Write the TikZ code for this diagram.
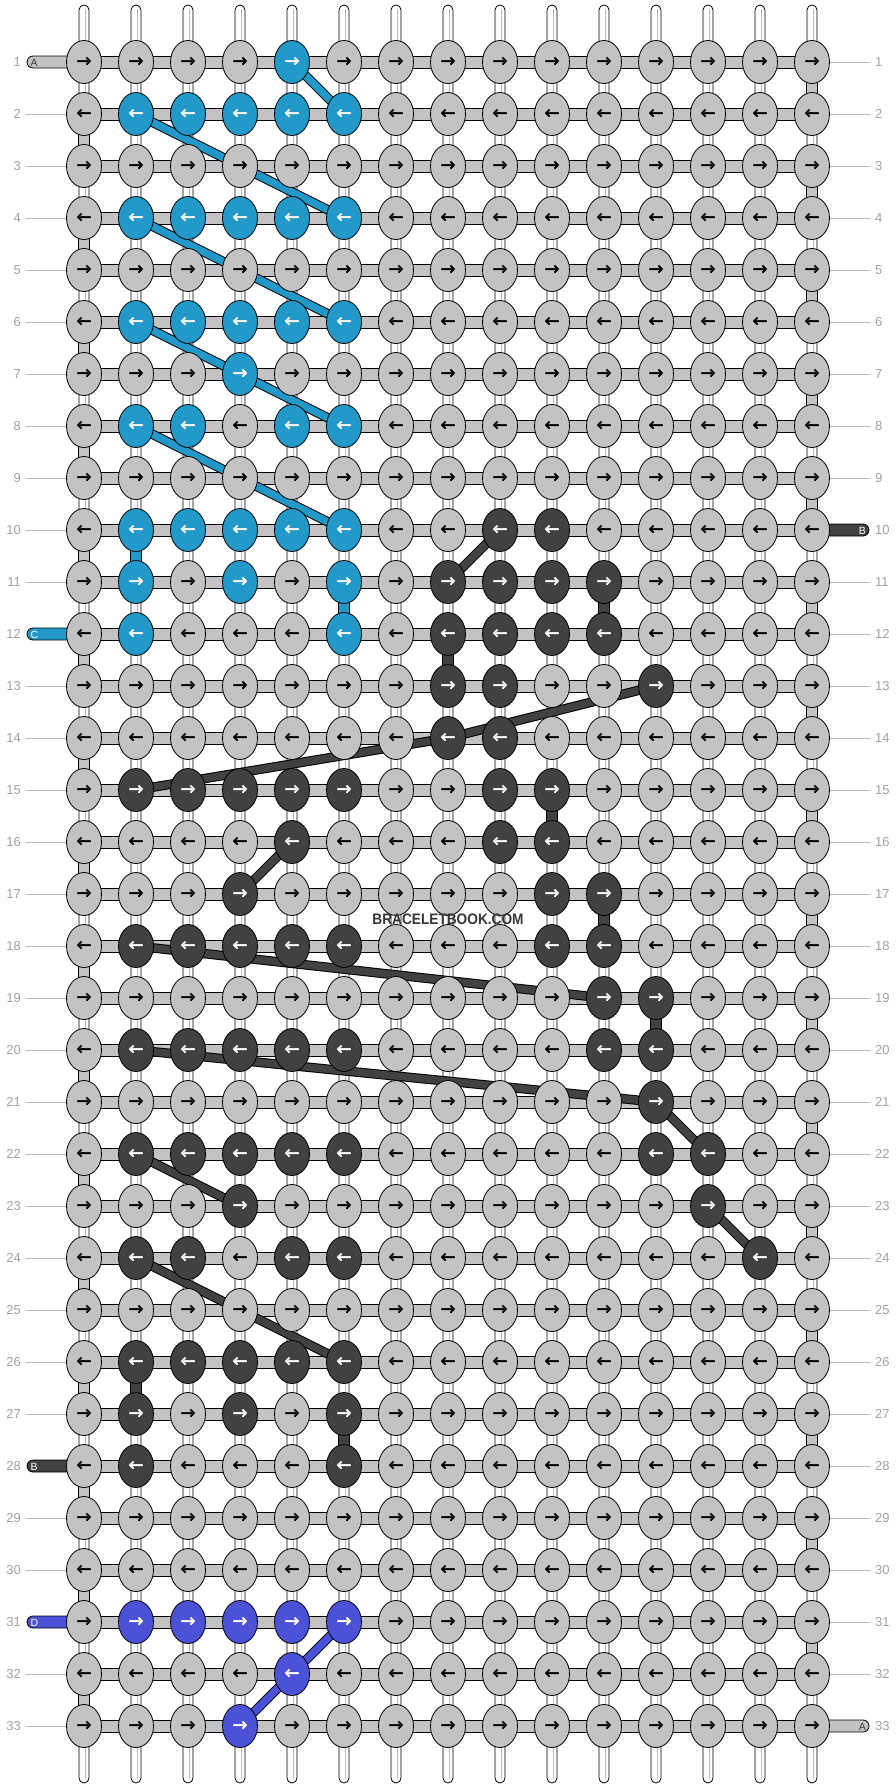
\documentclass[tikz,border=0pt]{standalone}
\usepackage{fontspec}
\usepackage{graphicx}
\setmainfont{Liberation Sans}
\newfontfamily\arrowfont[FakeBold=2.2]{DejaVu Sans}
\usetikzlibrary{shapes.geometric}
\pgfdeclarelayer{strands}
\pgfdeclarelayer{paths}
\pgfsetlayers{strands,paths,main}

\definecolor{kgray}{HTML}{C3C3C3}
\definecolor{kblue}{HTML}{2299C9}
\definecolor{kdark}{HTML}{414042}
\definecolor{kviolet}{HTML}{4B52D7}
\definecolor{numgray}{HTML}{A0A0A0}
\definecolor{numline}{HTML}{BBBBBB}
\definecolor{wmark}{HTML}{363636}

\newcommand\kset[3]{\foreach \kk in {#3} {\expandafter\xdef\csname kcol-#1-\kk\endcsname{#2}}}
% blue
\kset{1}{kblue}{5}
\kset{2}{kblue}{2,3,4,5,6}
\kset{4}{kblue}{2,3,4,5,6}
\kset{6}{kblue}{2,3,4,5,6}
\kset{7}{kblue}{4}
\kset{8}{kblue}{2,3,5,6}
\kset{10}{kblue}{2,3,4,5,6}
\kset{11}{kblue}{2,4,6}
\kset{12}{kblue}{2,6}
% dark
\kset{10}{kdark}{9,10}
\kset{11}{kdark}{8,9,10,11}
\kset{12}{kdark}{8,9,10,11}
\kset{13}{kdark}{8,9,12}
\kset{14}{kdark}{8,9}
\kset{15}{kdark}{2,3,4,5,6,9,10}
\kset{16}{kdark}{5,9,10}
\kset{17}{kdark}{4,10,11}
\kset{18}{kdark}{2,3,4,5,6,10,11}
\kset{19}{kdark}{11,12}
\kset{20}{kdark}{2,3,4,5,6,11,12}
\kset{21}{kdark}{12}
\kset{22}{kdark}{2,3,4,5,6,12,13}
\kset{23}{kdark}{4,13}
\kset{24}{kdark}{2,3,5,6,14}
\kset{26}{kdark}{2,3,4,5,6}
\kset{27}{kdark}{2,4,6}
\kset{28}{kdark}{2,6}
% violet
\kset{31}{kviolet}{2,3,4,5,6}
\kset{32}{kviolet}{5}
\kset{33}{kviolet}{4}

% vertical segment between row #2 and #2+1 at column #1
\newcommand\kvseg[3]{\draw[fill=#3, line width=0.8]
  ({84+52*(#1-1)-5.5},{62+52*(#2-1)+12}) rectangle ({84+52*(#1-1)+5.5},{62+52*(#2)-12});}

\begin{document}
\begin{tikzpicture}[x=1pt,y=-1pt,
  knot/.style={ellipse, draw=black, line width=0.8, minimum width=35, minimum height=43, inner sep=0pt,
    font=\arrowfont\fontsize{18}{18}\selectfont},
  numlbl/.style={text=numgray, font=\fontsize{13}{13}\selectfont, inner sep=2pt},
  numln/.style={draw=numline, line width=0.9},
  endlbl/.style={font=\fontsize{10.5}{10.5}\selectfont, inner sep=0pt}
]
\useasboundingbox (0,0) rectangle (896,1788);

% ---------- knots ----------
\foreach \rw in {1,...,33} {
  \foreach \cn in {1,...,15} {
    \ifcsname kcol-\rw-\cn\endcsname
      \edef\fc{\csname kcol-\rw-\cn\endcsname}\def\tc{white}%
    \else
      \def\fc{kgray}\def\tc{black}%
    \fi
    \ifodd\rw \def\ar{→}\else \def\ar{←}\fi
    \node[knot, fill=\fc, text=\tc] (n-\rw-\cn) at ({84+52*(\cn-1)},{62+52*(\rw-1)}) {\ar};
  }
}

% ---------- strands ----------
\begin{pgfonlayer}{strands}
  \foreach \cn in {1,...,15} {
    \pgfmathsetmacro\xx{84+52*(\cn-1)}
    \draw[fill=white, line width=0.8, rounded corners=5] (\xx-5,5) rectangle (\xx+5,1783);
    \draw[numline, line width=0.8] (\xx+1.2,9) -- (\xx+1.2,1779);
  }
  % turning segments at the edges
  \foreach \rw in {2,4,...,32} { \kvseg{1}{\rw}{kgray} }
  \foreach \rw in {1,3,...,31} { \kvseg{15}{\rw}{kgray} }
  % coloured vertical segments
  \kvseg{2}{10}{kblue}
  \kvseg{6}{11}{kblue}
  \kvseg{11}{11}{kdark}
  \kvseg{8}{12}{kdark}
  \kvseg{10}{15}{kdark}
  \kvseg{11}{17}{kdark}
  \kvseg{12}{19}{kdark}
  \kvseg{2}{26}{kdark}
  \kvseg{6}{27}{kdark}
  % horizontal strands
  \foreach \rw in {1,...,33} {
    \pgfmathsetmacro\yy{62+52*(\rw-1)}
    \draw[fill=kgray, line width=0.8] (84,\yy-6) rectangle (812,\yy+6);
  }
  % string ends, left
  \foreach \rw/\kcl/\ltr/\lc in {1/kgray/A/kdark, 12/kblue/C/white, 28/kdark/B/white, 31/kviolet/D/white} {
    \pgfmathsetmacro\yy{62+52*(\rw-1)}
    \draw[fill=\kcl, line width=0.8, rounded corners=6] (27,\yy-6) rectangle (92,\yy+6);
    \node[endlbl, text=\lc, anchor=west] (sl-\rw) at (30.5,\yy+0.5) {\ltr};
  }
  % string ends, right
  \foreach \rw/\kcl/\ltr/\lc in {10/kdark/B/white, 33/kgray/A/kdark} {
    \pgfmathsetmacro\yy{62+52*(\rw-1)}
    \draw[fill=\kcl, line width=0.8, rounded corners=6] (804,\yy-6) rectangle (869,\yy+6);
    \node[endlbl, text=\lc, anchor=east] (sr-\rw) at (866,\yy+0.5) {\ltr};
  }
  % row numbers
  \foreach \rw in {1,...,33} {
    \pgfmathsetmacro\yy{62+52*(\rw-1)}
    \node[numlbl, anchor=east] (ln-\rw) at (23,\yy) {\rw};
    \node[numlbl, anchor=west] (rn-\rw) at (873,\yy) {\rw};
  }
  \foreach \rw in {2,...,11,13,14,...,27,29,30,32,33} {
    \draw[numln] ([xshift=3pt]ln-\rw.east) -- (n-\rw-1.west);
  }
  \foreach \rw in {1,...,9,11,12,...,32} {
    \draw[numln] (n-\rw-15.east) -- ([xshift=-3pt]rn-\rw.west);
  }
\end{pgfonlayer}

% ---------- coloured string paths ----------
\begin{pgfonlayer}{paths}
  \tikzset{cpath/.style={line width=1, draw=black, double=#1, double distance=7.5, line join=round}}
  \draw[cpath=kblue] (n-1-5.center) -- (n-2-6.center);
  \draw[cpath=kblue] (n-2-2.center) -- (n-4-6.center);
  \draw[cpath=kblue] (n-4-2.center) -- (n-6-6.center);
  \draw[cpath=kblue] (n-6-2.center) -- (n-7-4.center) -- (n-8-6.center);
  \draw[cpath=kblue] (n-8-2.center) -- (n-10-6.center);
  \draw[cpath=kdark] (n-11-8.center) -- (n-10-9.center);
  \draw[cpath=kdark] (n-13-12.center) -- (n-14-8.center) -- (n-15-2.center);
  \draw[cpath=kdark] (n-17-4.center) -- (n-16-5.center);
  \draw[cpath=kdark] (n-18-2.center) -- (n-19-11.center);
  \draw[cpath=kdark] (n-20-2.center) -- (n-21-12.center);
  \draw[cpath=kdark] (n-21-12.center) -- (n-22-13.center);
  \draw[cpath=kdark] (n-23-13.center) -- (n-24-14.center);
  \draw[cpath=kdark] (n-22-2.center) -- (n-23-4.center);
  \draw[cpath=kdark] (n-24-2.center) -- (n-26-6.center);
  \draw[cpath=kviolet] (n-33-4.center) -- (n-32-5.center) -- (n-31-6.center);
\end{pgfonlayer}

% ---------- watermark ----------
\node[text=wmark, inner sep=0pt] (wm) at (448,919)
  {\scalebox{0.9}[1]{\bfseries\fontsize{15.2}{15.2}\selectfont BRACELETBOOK.COM}};
\end{tikzpicture}
\end{document}
